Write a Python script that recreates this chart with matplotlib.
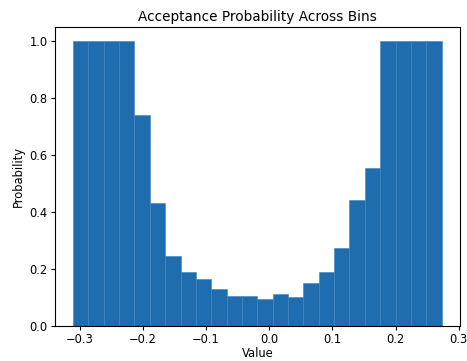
import numpy as np
import matplotlib
matplotlib.use('Agg')
import matplotlib.pyplot as plt

#### data
bin_lo = -0.3105
bin_hi = 0.2728
n_bins = 24
probs = [1.0, 1.0, 1.0, 1.0, 0.739, 0.433, 0.245, 0.19, 0.165, 0.131,
         0.106, 0.106, 0.094, 0.112, 0.103, 0.152, 0.19, 0.272, 0.443,
         0.556, 1.0, 1.0, 1.0, 1.0]

edges = np.linspace(bin_lo, bin_hi, n_bins + 1)
widths = np.diff(edges)

plt.rcParams['font.size'] = 8.3

fig = plt.figure(figsize=(4.67, 3.61), dpi=100)
ax = fig.add_axes([0.117, 0.097, 0.868, 0.829])
ax.bar(edges[:-1], probs, width=widths, align='edge',
       color='#1f6dae', edgecolor='#3c82bd', linewidth=0.4)
ax.set_title('Acceptance Probability Across Bins', fontsize=9.8, pad=4)
ax.set_xlabel('Value', labelpad=1)
ax.set_ylabel('Probability', labelpad=3)
ax.set_xticks([-0.3, -0.2, -0.1, 0.0, 0.1, 0.2, 0.3])
ax.tick_params(length=3, pad=2)

fig.savefig('out.png', dpi=100)
